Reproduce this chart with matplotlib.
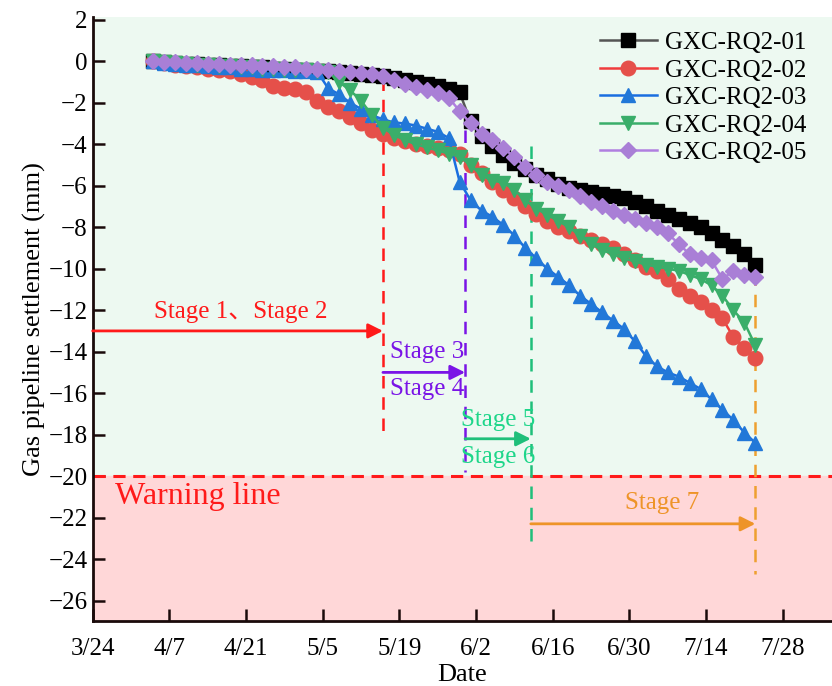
import pandas as pd
import matplotlib
matplotlib.use('Agg')
import matplotlib.pyplot as plt

plt.rcParams['font.family'] = ['Liberation Serif', 'Noto Sans CJK SC']

# monitoring dates (every 2 days, 4/4 -> 7/23)
dates = pd.date_range('2023-04-04', '2023-07-23', freq='2D')

names = ['GXC-RQ2-01', 'GXC-RQ2-02', 'GXC-RQ2-03', 'GXC-RQ2-04', 'GXC-RQ2-05']

rq01 = [0, -0.05, -0.1, -0.15, -0.15, -0.2, -0.2, -0.25, -0.25, -0.3,
        -0.3, -0.35, -0.35, -0.4, -0.4, -0.45, -0.45, -0.5, -0.55, -0.6,
        -0.65, -0.7, -0.8, -0.9, -1.0, -1.1, -1.2, -1.35, -1.5, -2.9,
        -3.6, -4.1, -4.5, -4.9, -5.2, -5.5, -5.7, -5.9, -6.1, -6.2,
        -6.3, -6.4, -6.5, -6.6, -6.8, -7.0, -7.2, -7.4, -7.6, -7.8,
        -8.0, -8.3, -8.6, -8.9, -9.3, -9.8]
rq02 = [0, -0.1, -0.2, -0.25, -0.3, -0.35, -0.4, -0.45, -0.6, -0.75,
        -0.9, -1.2, -1.3, -1.35, -1.5, -1.9, -2.2, -2.4, -2.7, -3.0,
        -3.3, -3.5, -3.7, -3.85, -4.0, -4.1, -4.2, -4.3, -4.45, -5.0,
        -5.4, -5.8, -6.2, -6.6, -7.0, -7.35, -7.7, -8.0, -8.2, -8.4,
        -8.6, -8.8, -9.0, -9.3, -9.6, -9.9, -10.1, -10.5, -11.0, -11.3,
        -11.6, -12.0, -12.4, -13.3, -13.8, -14.3]
rq03 = [0, -0.1, -0.15, -0.2, -0.2, -0.25, -0.3, -0.3, -0.35, -0.35,
        -0.4, -0.4, -0.4, -0.45, -0.45, -0.5, -1.3, -1.6, -2.0, -2.3,
        -2.6, -2.8, -2.95, -3.0, -3.1, -3.25, -3.4, -3.7, -5.8, -6.7,
        -7.2, -7.5, -7.9, -8.4, -9.0, -9.5, -10.0, -10.4, -10.8, -11.3,
        -11.7, -12.1, -12.5, -12.9, -13.5, -14.2, -14.7, -15.0, -15.2, -15.5,
        -15.8, -16.3, -16.8, -17.3, -17.9, -18.4]
rq04 = [0, -0.05, -0.1, -0.15, -0.2, -0.2, -0.25, -0.25, -0.3, -0.3,
        -0.35, -0.35, -0.4, -0.4, -0.4, -0.45, -0.5, -1.0, -1.4, -1.9,
        -2.6, -3.2, -3.55, -3.8, -4.0, -4.15, -4.3, -4.45, -4.6, -5.0,
        -5.5, -5.75, -5.85, -6.2, -6.7, -7.1, -7.4, -7.7, -8.0, -8.4,
        -8.8, -9.1, -9.3, -9.5, -9.65, -9.8, -9.9, -10.0, -10.1, -10.3,
        -10.5, -10.8, -11.3, -12.0, -12.6, -13.7]
rq05 = [0, -0.05, -0.05, -0.1, -0.1, -0.15, -0.15, -0.2, -0.2, -0.2,
        -0.25, -0.25, -0.3, -0.3, -0.35, -0.35, -0.4, -0.45, -0.5, -0.55,
        -0.6, -0.7, -0.9, -1.1, -1.25, -1.4, -1.55, -1.75, -2.4, -3.0,
        -3.5, -3.8, -4.2, -4.6, -5.1, -5.5, -5.8, -6.0, -6.2, -6.5,
        -6.8, -7.0, -7.2, -7.4, -7.6, -7.8, -8.0, -8.3, -8.8, -9.3,
        -9.5, -9.6, -10.5, -10.1, -10.3, -10.4]
series = [rq01, rq02, rq03, rq04, rq05]

markers = ['s', 'o', '^', 'v', 'D']
msizes = [9.5, 10.5, 10.5, 10.5, 8.5]
mcolors = ['#000000', '#e5504a', '#2278d8', '#3aae6a', '#a97fd6']
lcolors = ['#555555', '#f03c3c', '#1a6ee0', '#3aae6a', '#b07fe0']

# stage boundaries: date, top / bottom of dashed line, colour
stage_dates = ['2023-05-16', '2023-05-31', '2023-06-12', '2023-07-23']
stage_tops = [-0.8, -3.3, -4.1, -10.2]
stage_bottoms = [-18.2, -19.8, -23.5, -24.7]
stage_colors = ['#ff1a1a', '#7a14e6', '#1fbf7a', '#eea030']
warning = -20

tick_dates = ['2023-03-24', '2023-04-07', '2023-04-21', '2023-05-05', '2023-05-19',
              '2023-06-02', '2023-06-16', '2023-06-30', '2023-07-14', '2023-07-28']
tick_labels = ['3/24', '4/7', '4/21', '5/5', '5/19', '6/2', '6/16', '6/30', '7/14', '7/28']

fig = plt.figure(figsize=(8.32, 6.86), dpi=100)
ax = fig.add_axes([0.1114, 0.0943, 0.8886, 0.8814])

ax.axhspan(warning, 3, color='#edf9f1', zorder=0)
ax.axhspan(-30, warning, color='#ffd7d8', zorder=0)

for vals, name, mk, ms, mc, lc in zip(series, names, markers, msizes, mcolors, lcolors):
    ax.plot(dates, vals, color=lc, lw=1.8, marker=mk, ms=ms,
            mfc=mc, mec=mc, label=name, zorder=3)

ax.axhline(warning, color='#ff1a1a', ls=(0, (4, 2.5)), lw=2.2, zorder=2)

sd = pd.to_datetime(stage_dates)
for d, t, b, c in zip(sd, stage_tops, stage_bottoms, stage_colors):
    ax.plot([d, d], [t, b], color=c, ls=(0, (5, 3.5)), lw=1.8, zorder=2)

x0 = pd.Timestamp('2023-03-24')
arrows = [(x0, sd[0], -13.0, stage_colors[0]),
          (sd[0], sd[1], -15.0, stage_colors[1]),
          (sd[1], sd[2], -18.2, stage_colors[2]),
          (sd[2], sd[3], -22.3, '#ee9428')]
for xa, xb, y, c in arrows:
    ax.annotate('', xy=(xb, y), xytext=(xa, y),
                arrowprops=dict(arrowstyle='-|>', color=c, lw=2,
                                mutation_scale=22, shrinkA=0, shrinkB=0),
                zorder=4)

fs = 18
ax.text(pd.Timestamp('2023-04-20'), -12.1, 'Stage 1、Stage 2', color=stage_colors[0],
        fontsize=fs, ha='center', va='center')
ax.text(pd.Timestamp('2023-05-24'), -14.0, 'Stage 3', color=stage_colors[1],
        fontsize=fs, ha='center', va='center')
ax.text(pd.Timestamp('2023-05-24'), -15.8, 'Stage 4', color=stage_colors[1],
        fontsize=fs, ha='center', va='center')
ax.text(pd.Timestamp('2023-06-06'), -17.3, 'Stage 5', color='#1ed68a',
        fontsize=fs, ha='center', va='center')
ax.text(pd.Timestamp('2023-06-06'), -19.1, 'Stage 6', color='#1ed68a',
        fontsize=fs, ha='center', va='center')
ax.text(pd.Timestamp('2023-07-06'), -21.3, 'Stage 7', color='#ee9428',
        fontsize=fs, ha='center', va='center')
ax.text(pd.Timestamp('2023-03-28'), -21.0, 'Warning line', color='#ff1a1a',
        fontsize=23, ha='left', va='center')

ax.set_xlim(pd.Timestamp('2023-03-24'), pd.Timestamp('2023-08-06'))
ax.set_ylim(-27, 2.15)
ax.set_xticks(pd.to_datetime(tick_dates))
ax.set_xticklabels(tick_labels)
ax.set_yticks(range(-26, 3, 2))
ax.set_yticklabels([str(v).replace('-', '\u2212') for v in range(-26, 3, 2)])

for s in ['top', 'right']:
    ax.spines[s].set_visible(False)
for s in ['left', 'bottom']:
    ax.spines[s].set_linewidth(2)
    ax.spines[s].set_color('#1a0a0a')
ax.tick_params(direction='in', length=8.5, width=1.8, labelsize=18, colors='#1a0a0a',
               labelcolor='black')
ax.tick_params(axis='x', pad=12)

ax.set_xlabel('Date', fontsize=19, labelpad=3)
ax.set_ylabel('Gas pipeline settlement (mm)', fontsize=19, labelpad=2)

ax.legend(loc='upper right', bbox_to_anchor=(0.985, 1.0), frameon=False, fontsize=18,
          handlelength=2.3, labelspacing=0.2, handletextpad=0.3, borderaxespad=0.2)

plt.savefig('out.png', dpi=100)
plt.close()
